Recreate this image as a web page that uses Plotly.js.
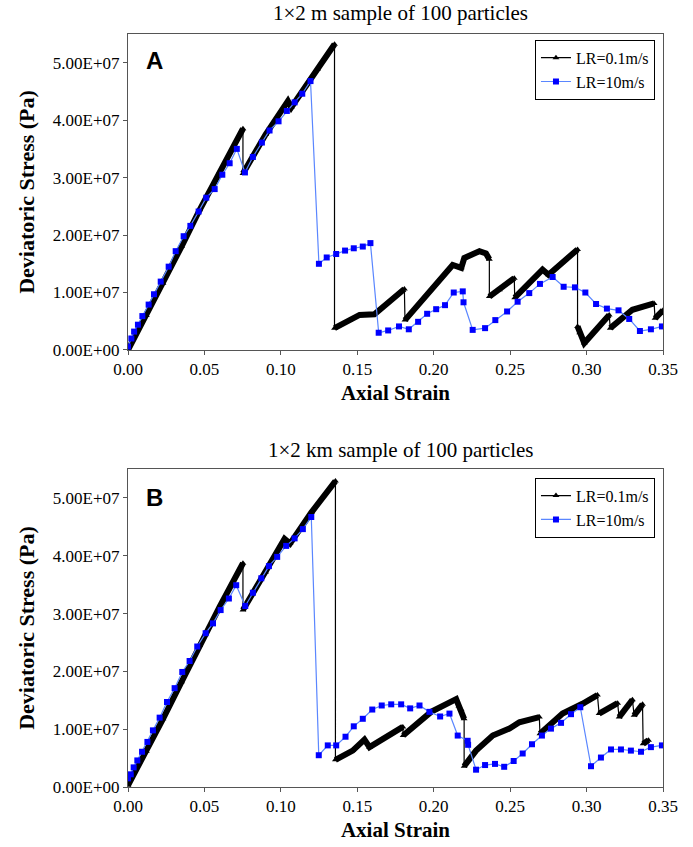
<!DOCTYPE html>
<html>
<head>
<meta charset="utf-8">
<script src="https://cdn.plot.ly/plotly-3.0.1.min.js"></script>
<style>html,body{margin:0;padding:0;background:#fff}#chart{width:693px;height:847px}</style>
</head>
<body>
<div id="chart"></div>
<script>
// ---- Data (Axial strain, deviatoric stress in Pa) ----
// Panel A: LR=0.1m/s (null separates continuous loading segments)
var blackAX = [0, 0.012, 0.0229, 0.035, 0.0469, 0.06, 0.0752, null,
  0.0752, 0.09, 0.1046, 0.1068, 0.124, 0.1351, null,
  0.1351, 0.145, 0.1515, 0.1612, 0.1808, null,
  0.1812, 0.2124, 0.218, 0.220, 0.2299, 0.2342, 0.2364, null,
  0.2364, 0.243, 0.2527, null,
  0.253, 0.2712, 0.2751, 0.2941, null,
  0.2941, 0.2955, 0.2985, 0.3148, null,
  0.3155, 0.33, 0.3442, null,
  0.3448, 0.35];
var blackAY = [0, 0.60e7, 1.16e7, 1.80e7, 2.44e7, 3.10e7, 3.85e7, null,
  3.07e7, 3.75e7, 4.33e7, 4.22e7, 4.89e7, 5.32e7, null,
  0.38e7, 0.52e7, 0.61e7, 0.62e7, 1.06e7, null,
  0.52e7, 1.48e7, 1.43e7, 1.60e7, 1.72e7, 1.68e7, 1.58e7, null,
  0.93e7, 1.05e7, 1.25e7, null,
  0.91e7, 1.40e7, 1.31e7, 1.75e7, null,
  0.41e7, 0.30e7, 0.12e7, 0.61e7, null,
  0.38e7, 0.70e7, 0.81e7, null,
  0.55e7, 0.69e7];
// Panel A: LR=10m/s
var blueAX = [0, 0.0022, 0.004, 0.0065, 0.0094, 0.0135, 0.017, 0.0214, 0.0266, 0.0312,
  0.0364, 0.0408, 0.0462, 0.0512, 0.0567, 0.0617, 0.0665, 0.0712, 0.0765, 0.0817,
  0.0876, 0.0926, 0.0985, 0.1039, 0.109, 0.114, 0.1194, 0.1249, 0.130, 0.1362,
  0.142, 0.1477, 0.1536, 0.1586, 0.164, 0.1702, 0.1773, 0.1837, 0.1898, 0.1957,
  0.2016, 0.2074, 0.2131, 0.219, 0.2195, 0.2255, 0.2336, 0.2403, 0.248, 0.2549,
  0.2625, 0.2695, 0.2778, 0.285, 0.2924, 0.2992, 0.3062, 0.3133, 0.3209, 0.3279,
  0.3349, 0.3421, 0.3493];
var blueAY = [0.06e7, 0.20e7, 0.32e7, 0.44e7, 0.59e7, 0.79e7, 0.97e7, 1.19e7, 1.45e7, 1.72e7,
  1.98e7, 2.16e7, 2.41e7, 2.65e7, 2.80e7, 3.05e7, 3.25e7, 3.50e7, 3.09e7, 3.36e7,
  3.61e7, 3.82e7, 3.98e7, 4.16e7, 4.31e7, 4.46e7, 4.68e7, 1.50e7, 1.61e7, 1.67e7,
  1.73e7, 1.77e7, 1.80e7, 1.86e7, 0.30e7, 0.34e7, 0.41e7, 0.36e7, 0.49e7, 0.63e7,
  0.71e7, 0.78e7, 1.00e7, 1.02e7, 0.83e7, 0.35e7, 0.38e7, 0.52e7, 0.67e7, 0.84e7,
  0.99e7, 1.15e7, 1.27e7, 1.10e7, 1.09e7, 1.00e7, 0.80e7, 0.72e7, 0.69e7, 0.54e7,
  0.33e7, 0.36e7, 0.41e7];

// Panel B: LR=0.1m/s
var blackBX = [0, 0.012, 0.0229, 0.035, 0.0469, 0.06, 0.0752, null,
  0.0752, 0.09, 0.1024, 0.106, 0.12, 0.1357, null,
  0.1357, 0.147, 0.1547, 0.158, 0.1798, null,
  0.18, 0.1983, 0.2147, 0.2165, 0.2179, 0.2199, null,
  0.2199, 0.2277, 0.2386, 0.2495, 0.256, 0.2691, null,
  0.2695, 0.2843, 0.2973, 0.3071, null,
  0.3082, 0.3203, null,
  0.3213, 0.33, null,
  0.3311, 0.3366, null,
  0.337, 0.3405];
var blackBY = [0.03e7, 0.62e7, 1.18e7, 1.82e7, 2.45e7, 3.12e7, 3.87e7, null,
  3.06e7, 3.72e7, 4.29e7, 4.21e7, 4.75e7, 5.29e7, null,
  0.47e7, 0.63e7, 0.82e7, 0.69e7, 1.04e7, null,
  0.89e7, 1.30e7, 1.52e7, 1.40e7, 1.34e7, 1.18e7, null,
  0.36e7, 0.63e7, 0.89e7, 1.01e7, 1.12e7, 1.21e7, null,
  0.92e7, 1.27e7, 1.44e7, 1.59e7, null,
  1.27e7, 1.45e7, null,
  1.21e7, 1.51e7, null,
  1.24e7, 1.43e7, null,
  0.75e7, 0.81e7];
// Panel B: LR=10m/s
var blueBX = [0, 0.0018, 0.0037, 0.0061, 0.0092, 0.0127, 0.0163, 0.0207, 0.0255, 0.0305,
  0.0355, 0.0403, 0.0453, 0.0508, 0.0556, 0.0606, 0.066, 0.0708, 0.0767, 0.0817,
  0.0872, 0.0922, 0.0976, 0.1035, 0.109, 0.1144, 0.1199, 0.1248, 0.1307, 0.1362,
  0.1423, 0.1477, 0.1536, 0.1598, 0.166, 0.1722, 0.1787, 0.1846, 0.1907, 0.1972,
  0.2042, 0.2103, 0.2157, 0.2222, 0.2225, 0.2277, 0.2336, 0.2401, 0.2461, 0.2523,
  0.2582, 0.2643, 0.2708, 0.2767, 0.2833, 0.2898, 0.2959, 0.3029, 0.3094, 0.316,
  0.3225, 0.329, 0.3356, 0.3421, 0.3493];
var blueBY = [0.15e7, 0.22e7, 0.34e7, 0.46e7, 0.61e7, 0.78e7, 0.98e7, 1.20e7, 1.47e7, 1.71e7,
  1.99e7, 2.18e7, 2.43e7, 2.66e7, 2.83e7, 3.06e7, 3.26e7, 3.49e7, 3.13e7, 3.36e7,
  3.61e7, 3.82e7, 3.98e7, 4.17e7, 4.30e7, 4.46e7, 4.67e7, 0.55e7, 0.72e7, 0.72e7,
  0.87e7, 1.05e7, 1.18e7, 1.34e7, 1.41e7, 1.43e7, 1.43e7, 1.36e7, 1.41e7, 1.30e7,
  1.22e7, 1.27e7, 0.89e7, 0.80e7, 0.73e7, 0.30e7, 0.38e7, 0.40e7, 0.35e7, 0.45e7,
  0.58e7, 0.74e7, 0.89e7, 1.01e7, 1.11e7, 1.26e7, 1.38e7, 0.36e7, 0.51e7, 0.65e7,
  0.65e7, 0.63e7, 0.61e7, 0.69e7, 0.72e7];

// Tick labels
var yTickVals = [0, 1e7, 2e7, 3e7, 4e7, 5e7];
var yTickText = ["0.00E+00", "1.00E+07", "2.00E+07", "3.00E+07", "4.00E+07", "5.00E+07"];
var xTickVals = [0, 0.05, 0.10, 0.15, 0.20, 0.25, 0.30, 0.35];
var xTickText = ["0.00", "0.05", "0.10", "0.15", "0.20", "0.25", "0.30", "0.35"];
var seriesNames = ["LR=0.1m/s", "LR=10m/s"];
var panelTitles = ["1\u00d72 m sample of 100 particles", "1\u00d72 km sample of 100 particles"];
var panelLetters = ["A", "B"];

// ---- Build ----
var SERIF = "Liberation Serif, Times New Roman, serif";
var SANS = "Liberation Sans, Arial, sans-serif";
function dropNull(xs, ys) {
  var ox = [], oy = [];
  for (var i = 0; i < xs.length; i++) { if (xs[i] !== null) { ox.push(xs[i]); oy.push(ys[i]); } }
  return [ox, oy];
}
function panelTraces(bx, by, ux, uy, xa, ya, lg) {
  var thin = dropNull(bx, by);
  return [
    {x: bx, y: by, xaxis: xa, yaxis: ya, mode: "lines", connectgaps: false,
     line: {color: "#000", width: 6}, showlegend: false, hoverinfo: "skip"},
    {x: thin[0], y: thin[1], xaxis: xa, yaxis: ya, mode: "lines+markers", name: seriesNames[0],
     legend: lg, line: {color: "#000", width: 1.2},
     marker: {symbol: "triangle-up", size: 6, color: "#000"}},
    {x: ux, y: uy, xaxis: xa, yaxis: ya, mode: "lines+markers", name: seriesNames[1],
     legend: lg, line: {color: "#5a86ff", width: 1.2},
     marker: {symbol: "square", size: 6, color: "#0000ff"}}
  ];
}
var traces = panelTraces(blackAX, blackAY, blueAX, blueAY, "x", "y", "legend")
  .concat(panelTraces(blackBX, blackBY, blueBX, blueBY, "x2", "y2", "legend2"));

function xAxis(anchor) {
  return {anchor: anchor, domain: [0, 1], range: [0, 0.35], tickvals: xTickVals, ticktext: xTickText,
    showline: true, mirror: true, linecolor: "#555", linewidth: 1, ticks: "outside", ticklen: 4,
    tickcolor: "#555", showgrid: false, zeroline: false,
    tickfont: {family: SERIF, size: 17, color: "#000"},
    title: {text: "<b>Axial Strain</b>", font: {family: SERIF, size: 21, color: "#000"}, standoff: 6}};
}
function yAxis(anchor, dom) {
  return {anchor: anchor, domain: dom, range: [0, 5.5e7], tickvals: yTickVals, ticktext: yTickText,
    showline: true, mirror: true, linecolor: "#555", linewidth: 1, ticks: "outside", ticklen: 4,
    tickcolor: "#555", showgrid: false, zeroline: false,
    tickfont: {family: SERIF, size: 17, color: "#000"},
    title: {text: "<b>Deviatoric Stress (Pa)</b>", font: {family: SERIF, size: 22, color: "#000"}, standoff: 12}};
}
function legendCfg(ytop) {
  return {x: 0.985, xanchor: "right", y: ytop, yanchor: "top", bgcolor: "#fff",
    bordercolor: "#000", borderwidth: 1, font: {family: SERIF, size: 16, color: "#000"},
    itemwidth: 30, tracegroupgap: 0};
}
var layout = {
  width: 693, height: 847, margin: {l: 128, r: 30, t: 0, b: 0},
  paper_bgcolor: "#fff", plot_bgcolor: "#fff", showlegend: true,
  xaxis: xAxis("y"), yaxis: yAxis("x", [0.5868, 0.9599]),
  xaxis2: xAxis("y2"), yaxis2: yAxis("x2", [0.0708, 0.4463]),
  legend: legendCfg(0.953), legend2: legendCfg(0.436),
  annotations: [
    {text: panelTitles[0], xref: "paper", yref: "paper", x: 0.51, y: 0.985, xanchor: "center", yanchor: "middle",
     showarrow: false, font: {family: SERIF, size: 21, color: "#000"}},
    {text: panelTitles[1], xref: "paper", yref: "paper", x: 0.51, y: 0.469, xanchor: "center", yanchor: "middle",
     showarrow: false, font: {family: SERIF, size: 21, color: "#000"}},
    {text: "<b>" + panelLetters[0] + "</b>", xref: "paper", yref: "paper", x: 0.05, y: 0.929, xanchor: "center", yanchor: "middle",
     showarrow: false, font: {family: SANS, size: 24, color: "#000"}},
    {text: "<b>" + panelLetters[1] + "</b>", xref: "paper", yref: "paper", x: 0.05, y: 0.413, xanchor: "center", yanchor: "middle",
     showarrow: false, font: {family: SANS, size: 24, color: "#000"}}
  ]
};
Plotly.newPlot("chart", traces, layout, {displayModeBar: false, staticPlot: true});
</script>
</body>
</html>
